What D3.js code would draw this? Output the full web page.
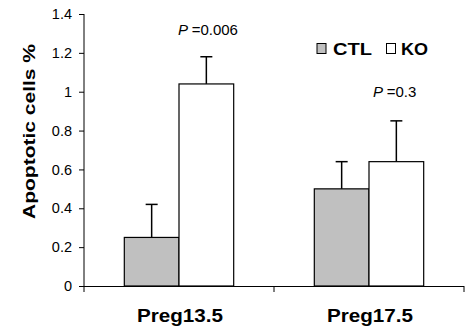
<!DOCTYPE html>
<html><head><meta charset="utf-8">
<script src="https://cdn.jsdelivr.net/npm/d3@7"></script>
<style>body{margin:0;background:#fff}svg{display:block}text{font-family:"Liberation Sans",Arial,sans-serif}</style>
</head><body>
<script>
const categories = ["Preg13.5", "Preg17.5"];
const seriesNames = ["CTL", "KO"];
const ctlValues = [0.25, 0.5];
const koValues = [1.04, 0.64];
const ctlErrors = [0.17, 0.14];
const koErrors = [0.14, 0.21];
const pLabels = ["=0.006", "=0.3"];
const yTicks = [0, 0.2, 0.4, 0.6, 0.8, 1, 1.2, 1.4];
const yTickLabels = ["0", "0.2", "0.4", "0.6", "0.8", "1", "1.2", "1.4"];
const colors = {CTL: "#c0c0c0", KO: "#ffffff"};

const W = 467, H = 332;
const svg = d3.select("body").append("svg").attr("width", W).attr("height", H);
const mLeft = 84, mRight = 464, mTop = 14, mBottom = 286;

const y = d3.scaleLinear().domain([0, 1.4]).range([mBottom, mTop]);
const x = d3.scaleBand().domain(categories).range([mLeft, mRight]);
const xs = d3.scaleBand().domain(seriesNames).range([0, x.bandwidth()]).paddingOuter(0.737).paddingInner(0);

const data = categories.map((c, i) => ({cat: c, vals: [
  {s: "CTL", v: ctlValues[i], e: ctlErrors[i]},
  {s: "KO", v: koValues[i], e: koErrors[i]}]}));

const g = svg.append("g");
data.forEach(d => {
  d.vals.forEach(b => {
    const cx = x(d.cat) + xs(b.s) + xs.bandwidth() / 2;
    g.append("line").attr("x1", cx).attr("x2", cx).attr("y1", y(b.v)).attr("y2", y(b.v + b.e))
      .attr("stroke", "#000").attr("stroke-width", 1.5);
    g.append("line").attr("x1", cx - 6).attr("x2", cx + 6).attr("y1", y(b.v + b.e)).attr("y2", y(b.v + b.e))
      .attr("stroke", "#000").attr("stroke-width", 1.5);
  });
});
data.forEach(d => {
  d.vals.forEach(b => {
    g.append("rect").attr("x", x(d.cat) + xs(b.s)).attr("width", xs.bandwidth())
      .attr("y", y(b.v)).attr("height", y(0) - y(b.v))
      .attr("fill", colors[b.s]).attr("stroke", "#000").attr("stroke-width", 1.2);
  });
});

const yAxis = d3.axisLeft(y).tickValues(yTicks).tickFormat((d, i) => yTickLabels[i]).tickSize(5).tickPadding(7);
const ya = svg.append("g").attr("transform", `translate(${mLeft},0)`).call(yAxis);
ya.select(".domain").attr("d", `M0,${mTop}V${mBottom + 6}`).attr("stroke", "#000");
ya.selectAll("text").attr("font-size", 14.5).attr("fill", "#000").style("font-family", "Liberation Sans, Arial, sans-serif");
ya.selectAll("line").attr("stroke", "#000");

svg.append("line").attr("x1", mLeft).attr("x2", mRight).attr("y1", mBottom + 0.5).attr("y2", mBottom + 0.5).attr("stroke", "#000");
categories.forEach(c => {
  const xe = x(c) + x.bandwidth();
  svg.append("line").attr("x1", xe).attr("x2", xe).attr("y1", mBottom).attr("y2", mBottom + 6).attr("stroke", "#000");
  svg.append("text").attr("x", x(c) + x.bandwidth() / 2 + 1).attr("y", 322).attr("text-anchor", "middle")
    .attr("font-size", 17.5).attr("font-weight", "bold")
    .attr("textLength", 86).attr("lengthAdjust", "spacingAndGlyphs").text(c);
});

svg.append("text").attr("transform", `translate(35,${(44 + 219) / 2}) rotate(-90)`)
  .attr("text-anchor", "middle").attr("font-size", 16).attr("font-weight", "bold")
  .attr("textLength", 175).attr("lengthAdjust", "spacingAndGlyphs").text("Apoptotic cells %");

const pPos = [{x: 178, y: 35}, {x: 373, y: 97}];
pLabels.forEach((p, i) => {
  const t = svg.append("text").attr("x", pPos[i].x).attr("y", pPos[i].y).attr("font-size", 15);
  t.append("tspan").attr("font-style", "italic").text("P ");
  t.append("tspan").text(p);
});

const leg = svg.append("g");
const legItems = [{s: "CTL", x: 317, tx: 333, len: 39}, {s: "KO", x: 386.5, tx: 401, len: 27}];
legItems.forEach(l => {
  leg.append("rect").attr("x", l.x).attr("y", 43.5).attr("width", 9).attr("height", 10)
    .attr("fill", colors[l.s]).attr("stroke", "#000");
  leg.append("text").attr("x", l.tx).attr("y", 55).attr("font-size", 17).attr("font-weight", "bold")
    .attr("textLength", l.len).attr("lengthAdjust", "spacingAndGlyphs").text(l.s);
});
</script>
</body></html>
